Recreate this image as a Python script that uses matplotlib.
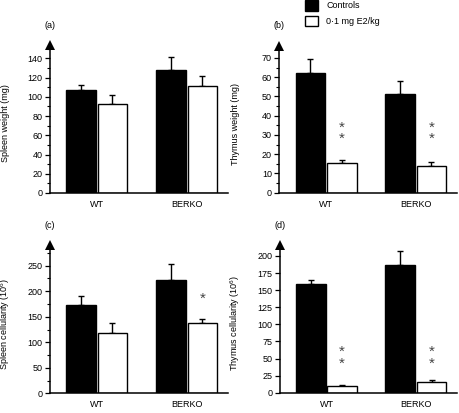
import matplotlib
matplotlib.use("Agg")
import matplotlib.pyplot as plt
from matplotlib.patches import Patch
from matplotlib.ticker import MultipleLocator

plt.rcParams['font.family'] = ['Liberation Sans', 'DejaVu Sans']
plt.rcParams['mathtext.fontset'] = 'custom'
plt.rcParams['mathtext.rm'] = 'Liberation Sans'
plt.rcParams['mathtext.it'] = 'Liberation Sans:italic'
plt.rcParams['mathtext.bf'] = 'Liberation Sans:bold'

groups = ["WT", "BERKO"]
series_names = ["Controls", "0·1 mg E2/kg"]

spleen_weight_ctrl = [107, 128]
spleen_weight_ctrl_err = [5, 13]
spleen_weight_e2 = [92, 111]
spleen_weight_e2_err = [10, 11]

thymus_weight_ctrl = [62, 51.5]
thymus_weight_ctrl_err = [7.5, 6.5]
thymus_weight_e2 = [15.5, 14]
thymus_weight_e2_err = [1.5, 2]

spleen_cell_ctrl = [174, 222]
spleen_cell_ctrl_err = [16, 31]
spleen_cell_e2 = [119, 137]
spleen_cell_e2_err = [19, 8]

thymus_cell_ctrl = [159, 187]
thymus_cell_ctrl_err = [6, 20]
thymus_cell_e2 = [10, 16]
thymus_cell_e2_err = [1.5, 2.5]

panels = [
    dict(label="(a)", ylabel="Spleen weight (mg)", ctrl=spleen_weight_ctrl, ctrl_err=spleen_weight_ctrl_err,
         e2=spleen_weight_e2, e2_err=spleen_weight_e2_err, ytop=154.3, major=20, minor=10,
         stars=["", ""], star_y=[0, 0]),
    dict(label="(b)", ylabel="Thymus weight (mg)", ctrl=thymus_weight_ctrl, ctrl_err=thymus_weight_ctrl_err,
         e2=thymus_weight_e2, e2_err=thymus_weight_e2_err, ytop=76.1, major=10, minor=5,
         stars=["*\n*", "*\n*"], star_y=[31, 31]),
    dict(label="(c)", ylabel="Spleen cellularity (10$^6$)", ctrl=spleen_cell_ctrl, ctrl_err=spleen_cell_ctrl_err,
         e2=spleen_cell_e2, e2_err=spleen_cell_e2_err, ytop=290.2, major=50, minor=25,
         stars=["", "*"], star_y=[0, 186]),
    dict(label="(d)", ylabel="Thymus cellularity (10$^6$)", ctrl=thymus_cell_ctrl, ctrl_err=thymus_cell_ctrl_err,
         e2=thymus_cell_e2, e2_err=thymus_cell_e2_err, ytop=215.8, major=25, minor=None,
         stars=["*\n*", "*\n*"], star_y=[51, 51]),
]

W, H = 460, 413
fig = plt.figure(figsize=(W / 100, H / 100), dpi=100)

# axes rectangles in pixels: left, right, bottom(y of zero), top(y of spine end)
rects = [(50, 228, 193, 44.5), (279.5, 457, 192.7, 46.2), (50, 228, 393.3, 245.2), (280, 457, 392.7, 245.2)]
# x (pixels) of the y-label centre, and y (pixels) of the panel letter
ylabel_x = [5.5, 235.5, 5.5, 235.5]
letter_y = [25, 25, 225, 225]

FS = 6.5
bw = 0.33
off = 0.175
x = [0, 1]
for p, (l, r, b, t), lx, ly in zip(panels, rects, ylabel_x, letter_y):
    ax = fig.add_axes([l / W, 1 - b / H, (r - l) / W, (b - t) / H])
    xc = [xi - off for xi in x]
    xe = [xi + off for xi in x]
    ax.bar(xc, p["ctrl"], width=bw, color="black", edgecolor="black", linewidth=1, zorder=2)
    ax.bar(xe, p["e2"], width=bw, color="white", edgecolor="black", linewidth=1, zorder=2)
    ax.errorbar(xc, p["ctrl"], yerr=[[0, 0], p["ctrl_err"]], fmt="none", ecolor="black",
                elinewidth=1, capsize=2.5, capthick=1, zorder=1)
    ax.errorbar(xe, p["e2"], yerr=[[0, 0], p["e2_err"]], fmt="none", ecolor="black",
                elinewidth=1, capsize=2.5, capthick=1, zorder=1)
    for xi, s, sy in zip(xe, p["stars"], p["star_y"]):
        if s:
            ax.text(xi, sy, s, ha="center", va="center", fontsize=11, color="#444",
                    linespacing=0.75)
    ax.set_xlim(-0.52, 1.46)
    for sp in ["top", "right"]:
        ax.spines[sp].set_visible(False)
    for sp in ["left", "bottom"]:
        ax.spines[sp].set_linewidth(1.1)
    ax.set_xticks(x)
    ax.set_xticklabels(groups, fontsize=FS)
    ax.tick_params(axis="x", length=0, pad=5)
    ax.set_yticks([v * p["major"] for v in range(20) if v * p["major"] < p["ytop"] - p["major"] * 0.3])
    if p["minor"]:
        ax.yaxis.set_minor_locator(MultipleLocator(p["minor"]))
    ax.tick_params(axis="y", which="major", length=3.5, width=0.9, labelsize=FS, pad=2)
    ax.tick_params(axis="y", which="minor", length=2, width=0.8)
    ax.set_ylim(0, p["ytop"])
    ax.plot([-0.52], [p["ytop"]], marker="^", markersize=7, color="black",
            clip_on=False, zorder=5, markeredgewidth=0)
    ax.set_ylabel(p["ylabel"], fontsize=FS, va="center")
    ax.yaxis.set_label_coords((lx - l) / (r - l), 0.47)
    fig.text((l - 5.5) / W, 1 - ly / H, p["label"], fontsize=FS, ha="left", va="center")

handles = [Patch(facecolor="black", edgecolor="black", linewidth=1),
           Patch(facecolor="white", edgecolor="black", linewidth=1)]
fig.legend(handles=handles, labels=series_names, loc="upper left", bbox_to_anchor=(305 / W, 1.0),
           borderpad=0, borderaxespad=0, frameon=False, fontsize=FS, handlelength=1.45,
           handleheight=1.45, labelspacing=0.55, handletextpad=0.9)

fig.savefig("out.png", dpi=100)
